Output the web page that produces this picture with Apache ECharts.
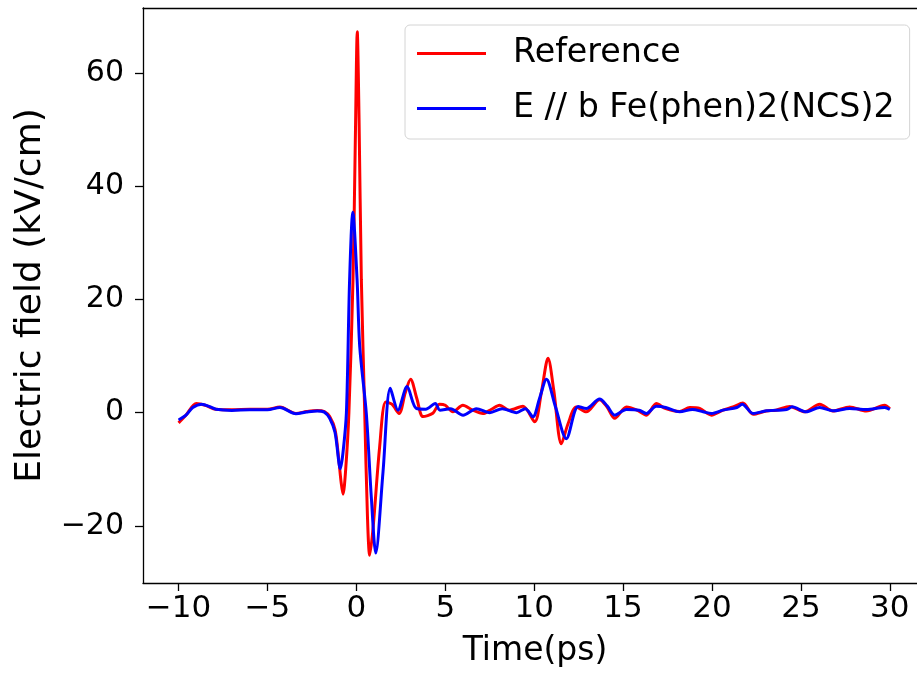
<!DOCTYPE html>
<html>
<head>
<meta charset="utf-8">
<script src="https://cdn.jsdelivr.net/npm/echarts@6/dist/echarts.min.js"></script>
<style>
  html, body { margin: 0; padding: 0; background: #fff; }
  #chart { width: 917px; height: 677px; }
</style>
</head>
<body>
<div id="chart"></div>
<script>
// Reference pulse
const timeRef = [-10.0, -9.6, -9.0, -8.5, -7.9, -7.0, -6.0, -5.0, -4.3, -3.4, -2.8, -2.2, -1.8, -1.5, -1.2, -1.0, -0.85, -0.75, -0.6, -0.42, -0.19, -0.05, 0.05, 0.15, 0.28, 0.47, 0.62, 0.75, 0.95, 1.31, 1.65, 2.0, 2.4, 2.75, 3.05, 3.4, 3.75, 4.3, 4.68, 5.0, 5.43, 5.99, 6.5, 7.12, 7.6, 8.06, 8.6, 9.37, 10.03, 10.4, 10.78, 11.1, 11.53, 11.9, 12.37, 12.93, 13.68, 14.1, 14.53, 15.19, 15.75, 16.31, 16.87, 17.4, 18.18, 18.75, 19.31, 19.97, 20.62, 21.18, 21.74, 22.31, 23.06, 23.6, 24.37, 25.21, 26.06, 26.8, 27.74, 28.68, 29.71, 30.0];
const fieldRef = [-1.8, -0.5, 1.6, 1.3, 0.6, 0.5, 0.6, 0.6, 1.0, -0.15, 0.2, 0.4, 0.2, -0.7, -3.0, -8.0, -12.5, -14.4, -10.0, 0.0, 23.5, 50.0, 67.3, 52.0, 23.5, 0.0, -18.0, -25.2, -20.0, -6.0, 1.9, 1.5, -0.15, 3.5, 5.9, 2.5, -0.7, -0.1, 1.5, 1.3, 0.15, 1.3, 0.5, -0.15, 0.6, 1.3, 0.44, 1.15, -1.6, 3.5, 9.6, 4.0, -5.5, -2.0, 1.0, 0.15, 2.3, 1.0, -1.0, 1.0, 0.5, -0.44, 1.6, 0.7, 0.2, 0.9, 0.74, -0.44, 0.44, 1.0, 1.7, -0.3, 0.3, 0.44, 1.1, 0.15, 1.5, 0.3, 1.0, 0.3, 1.3, 0.7];

// E // b Fe(phen)2(NCS)2
const timeSample = [-10.0, -9.6, -9.2, -8.7, -8.2, -7.9, -7.0, -6.0, -5.0, -4.3, -3.4, -2.8, -2.2, -1.8, -1.5, -1.2, -0.9, -0.75, -0.56, -0.38, -0.2, 0.04, 0.19, 0.56, 0.84, 1.09, 1.5, 1.91, 2.34, 2.85, 3.37, 3.9, 4.44, 4.7, 5.3, 6.0, 6.75, 7.5, 8.2, 9.0, 9.5, 9.93, 10.3, 10.69, 11.2, 11.81, 12.47, 12.93, 13.68, 14.1, 14.53, 15.19, 15.9, 16.31, 16.87, 17.4, 18.18, 18.9, 19.5, 19.97, 20.62, 21.4, 21.7, 22.31, 23.06, 24.2, 24.5, 25.3, 26.06, 26.8, 27.74, 28.68, 29.71, 30.0];
const fieldSample = [-1.3, -0.5, 0.9, 1.5, 1.0, 0.6, 0.4, 0.5, 0.5, 0.9, -0.2, 0.1, 0.3, 0.1, -1.0, -3.5, -9.9, -7.0, 0.0, 23.5, 35.4, 23.5, 11.6, -0.15, -14.9, -24.8, -10.4, 4.3, 0.44, 4.6, 0.74, 0.6, 1.6, 0.44, 0.7, -0.44, 0.7, 0.0, 0.7, 0.0, 0.7, -0.74, 2.5, 5.9, 1.0, -4.6, 1.1, 0.74, 2.4, 1.2, -0.44, 0.56, 0.44, -0.15, 1.15, 0.91, 0.15, 0.56, 0.15, -0.15, 0.44, 0.91, 1.5, -0.15, 0.32, 0.56, 1.03, 0.15, 0.91, 0.32, 0.74, 0.56, 0.91, 0.56];

const xTicks = [-10, -5, 0, 5, 10, 15, 20, 25, 30];
const yTicks = [-20, 0, 20, 40, 60];

const pairs = (xs, ys) => xs.map((x, i) => [x, ys[i]]);
const minus = (v) => (v < 0 ? "\u2212" + Math.abs(v) : String(v));

const font = "DejaVu Sans";
const black = { color: "#000", width: 1.3 };
// the frame runs off the right edge of the picture, so the x range stops there
const xMin = -12;
const xMax = 31.53;

const chart = echarts.init(document.getElementById("chart"));

const option = {
  animation: false,
  backgroundColor: "#fff",
  textStyle: { fontFamily: font, color: "#000" },
  grid: { left: 143, top: 8, right: 0, bottom: 94 },
  legend: {
    orient: "vertical",
    left: 405,
    top: 25,
    icon: "rect",
    itemWidth: 69,
    itemHeight: 3,
    itemGap: 22,
    padding: [12, 15, 14, 12],
    backgroundColor: "#fff",
    borderColor: "#d4d4d4",
    borderWidth: 1,
    borderRadius: 5,
    textStyle: {
      fontFamily: font,
      fontSize: 33.3,
      lineHeight: 30,
      color: "#000",
      padding: [0, 0, 0, 22],
    },
    data: ["Reference", "E // b Fe(phen)2(NCS)2"],
  },
  xAxis: [
    {
      type: "value",
      min: xMin,
      max: xMax,
      name: "Time(ps)",
      nameLocation: "middle",
      nameGap: 52,
      nameTextStyle: { fontFamily: font, fontSize: 33, color: "#000", padding: [0, 0, 0, 10] },
      axisLine: { show: true, onZero: false, lineStyle: black },
      axisTick: { show: true, length: 8, lineStyle: black, customValues: xTicks },
      axisLabel: {
        fontFamily: font,
        fontSize: 31,
        color: "#000",
        margin: 10,
        customValues: xTicks,
        formatter: minus,
      },
      splitLine: { show: false },
    },
    {
      // top spine
      type: "value",
      position: "top",
      min: xMin,
      max: xMax,
      axisLine: { show: true, onZero: false, lineStyle: black },
      axisTick: { show: false },
      axisLabel: { show: false },
      splitLine: { show: false },
    },
  ],
  yAxis: {
    type: "value",
    min: -30.1,
    max: 71.5,
    name: "Electric field (kV/cm)",
    nameLocation: "middle",
    nameGap: 94,
    nameRotate: 90,
    nameTextStyle: { fontFamily: font, fontSize: 36, color: "#000" },
    axisLine: { show: true, onZero: false, lineStyle: black },
    axisTick: { show: true, length: 8, lineStyle: black, customValues: yTicks },
    axisLabel: {
      fontFamily: font,
      fontSize: 30,
      color: "#000",
      margin: 19,
      customValues: yTicks,
      formatter: minus,
    },
    splitLine: { show: false },
  },
  series: [
    {
      name: "Reference",
      type: "line",
      data: pairs(timeRef, fieldRef),
      showSymbol: false,
      smooth: 0.3,
      color: "#ff0000",
      lineStyle: { color: "#ff0000", width: 3 },
    },
    {
      name: "E // b Fe(phen)2(NCS)2",
      type: "line",
      data: pairs(timeSample, fieldSample),
      showSymbol: false,
      smooth: 0.3,
      color: "#0000ff",
      lineStyle: { color: "#0000ff", width: 3 },
    },
  ],
};

chart.setOption(option);
</script>
</body>
</html>
